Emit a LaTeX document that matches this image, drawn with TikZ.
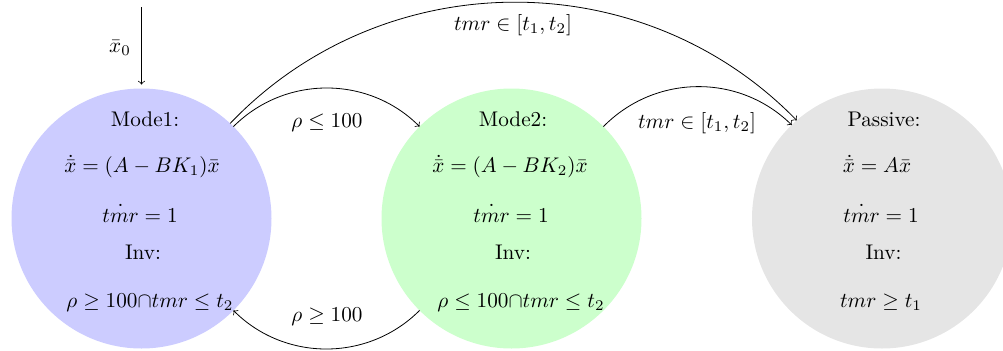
\documentclass[tikz,border=0pt]{standalone}
\usepackage{amsmath}
\begin{document}
\begin{tikzpicture}[x=0.5pt,y=0.5pt,>=to]
\tikzset{
  state/.style={circle,minimum size=130pt,inner sep=0pt,outer sep=0pt},
  txt/.style={anchor=base,inner sep=0pt,scale=1.06},
  trans/.style={->,line width=0.4pt}
}
\useasboundingbox (0,0) rectangle (1003,350);
% states
\node[state,fill=blue!20] (m1) at (141.5,131.5) {};
\node[state,fill=green!20] (m2) at (511.5,131.5) {};
\node[state,fill=black!10] (pa) at (882,131.5) {};
% Mode1 text
\node[txt] (m1a) at (145,224) {Mode1:};
\node[txt] (m1b) at (142,178) {$\dot{\bar{x}}=(A-BK_1)\bar{x}$};
\node[txt] (m1c) at (140,128) {$\dot{tmr}=1$};
\node[txt] (m1d) at (143,91) {Inv:};
\node[txt] (m1e) at (150,43) {$\rho\geq 100{\cap}tmr\leq t_2$};
% Mode2 text
\node[txt] (m2a) at (513,224) {Mode2:};
\node[txt] (m2b) at (510,178) {$\dot{\bar{x}}=(A-BK_2)\bar{x}$};
\node[txt] (m2c) at (511,128) {$\dot{tmr}=1$};
\node[txt] (m2d) at (513,91) {Inv:};
\node[txt] (m2e) at (521,43) {$\rho\leq 100{\cap}tmr\leq t_2$};
% Passive text
\node[txt] (paa) at (884,224) {Passive:};
\node[txt] (pab) at (877,178) {$\dot{\bar{x}}=A\bar{x}$};
\node[txt] (pac) at (881,128) {$\dot{tmr}=1$};
\node[txt] (pad) at (883.5,91) {Inv:};
\node[txt] (pae) at (881,43) {$tmr\geq t_1$};
% initial arrow
\coordinate (init) at (141.5,343);
\draw[trans,shorten >=2pt] (init) -- (m1.north);
\node[txt] (x0) at (120,298) {$\bar{x}_0$};
% transitions
\draw[trans] (m1.45) to[bend left=45] (m2.135);
\draw[trans] (m1.47) to[bend left=46] (pa.131);
\draw[trans] (m2.45) to[bend left=45] (pa.134);
\draw[trans] (m2.225) to[bend left=45] (m1.315);
% labels
\node[txt] (l1) at (327,223) {$\rho\leq 100$};
\node[txt] (l2) at (513,320) {$tmr\in[t_1,t_2]$};
\node[txt] (l3) at (697,222) {$tmr\in[t_1,t_2]$};
\node[txt] (l4) at (327,29) {$\rho\geq 100$};
\end{tikzpicture}
\end{document}
